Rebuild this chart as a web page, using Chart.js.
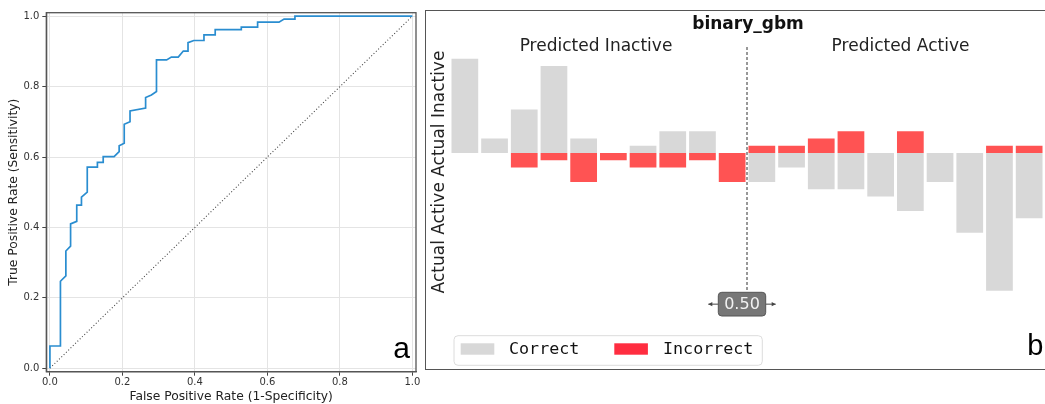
<!DOCTYPE html>
<html>
<head>
<meta charset="utf-8">
<script src="https://cdn.jsdelivr.net/npm/chart.js@4.4.1/dist/chart.umd.min.js"></script>
<style>
  html, body { margin: 0; padding: 0; background: #fff; overflow: hidden; }
  body { width: 1045px; height: 404px; position: relative; }
  #rocChart { position: absolute; left: 0; top: 0; }
  #frameB { position: absolute; left: 425px; top: 10px; width: 700px; height: 360px; box-sizing: border-box; border: 1.5px solid #555; }
  #predChart { position: absolute; left: 425px; top: 0; }
</style>
</head>
<body>
<canvas id="rocChart" width="425" height="404"></canvas>
<div id="frameB"></div>
<canvas id="predChart" width="620" height="404"></canvas>
<script>
// ---------------- DATA: ROC CURVE (panel a) ----------------
const fpr = [0, 0, 0.029, 0.029, 0.044, 0.044, 0.057, 0.057, 0.074, 0.074, 0.087, 0.087, 0.103, 0.103,
    0.131, 0.131, 0.147, 0.147, 0.177, 0.191, 0.191, 0.205, 0.205, 0.221, 0.221, 0.264, 0.264, 0.28,
    0.294, 0.294, 0.322, 0.335, 0.354, 0.368, 0.381, 0.381, 0.397, 0.425, 0.425, 0.456, 0.456, 0.528,
    0.528, 0.573, 0.573, 0.632, 0.646, 0.676, 0.676, 1.0];
const tpr = [0, 0.063, 0.063, 0.247, 0.262, 0.333, 0.347, 0.41, 0.417, 0.463, 0.463, 0.486, 0.5, 0.571,
    0.571, 0.585, 0.585, 0.601, 0.601, 0.615, 0.632, 0.639, 0.693, 0.7, 0.731, 0.739, 0.769, 0.776,
    0.786, 0.876, 0.876, 0.884, 0.884, 0.901, 0.901, 0.925, 0.931, 0.931, 0.947, 0.947, 0.962, 0.962,
    0.969, 0.969, 0.983, 0.983, 0.992, 0.992, 1.0, 1.0];
const chanceX = [0, 1];
const chanceY = [0, 1];
const rocTicks = [0, 0.2, 0.4, 0.6, 0.8, 1.0];

// ---------------- DATA: PREDICTION HISTOGRAM (panel b) ----------------
const binStarts = [0.00, 0.05, 0.10, 0.15, 0.20, 0.25, 0.30, 0.35, 0.40, 0.45,
                   0.50, 0.55, 0.60, 0.65, 0.70, 0.75, 0.80, 0.85, 0.90, 0.95];
const actualInactive = [13, 2, 6, 12, 2, 0, 1, 3, 3, 0, 1, 1, 2, 3, 0, 3, 0, 0, 1, 1];
const actualActive   = [0, 0, 2, 1, 4, 1, 2, 2, 1, 4, 4, 2, 5, 5, 6, 8, 4, 11, 19, 9];
const threshold = 0.5;

// correct = inactive below threshold / active above it; active counts go downwards
const correct = binStarts.map((b, i) => b < threshold ? actualInactive[i] : -actualActive[i]);
const incorrect = binStarts.map((b, i) => b < threshold ? -actualActive[i] : actualInactive[i]);

const GRAY = "#d8d8d8";
const RED = "#ff5353";
const RED_LEGEND = "#ff2d40";

// ---------------- PANEL A ----------------
const frameA = {
    id: "frameA",
    afterDraw(chart) {
        const { ctx, chartArea: a } = chart;
        ctx.save();
        ctx.strokeStyle = "#555";
        ctx.lineWidth = 1.3;
        ctx.strokeRect(a.left, a.top, a.right - a.left, a.bottom - a.top);
        ctx.fillStyle = "#000";
        ctx.font = '30px "Liberation Sans", Arial, sans-serif';
        ctx.textAlign = "right";
        ctx.textBaseline = "alphabetic";
        ctx.fillText("a", 410, 358);
        ctx.restore();
    }
};

const tickFont = { size: 10, family: '"DejaVu Sans", sans-serif' };
const titleFont = { size: 12.3, family: '"DejaVu Sans", sans-serif' };

new Chart(document.getElementById("rocChart"), {
    type: "line",
    data: {
        datasets: [
            {
                data: fpr.map((x, i) => ({ x: x, y: tpr[i] })),
                borderColor: "#2a8dd0",
                borderWidth: 1.7,
                pointRadius: 0,
                tension: 0,
                fill: false
            },
            {
                data: chanceX.map((x, i) => ({ x: x, y: chanceY[i] })),
                borderColor: "#444",
                borderWidth: 1.1,
                borderDash: [1, 2.2],
                pointRadius: 0,
                fill: false
            }
        ]
    },
    options: {
        responsive: false,
        animation: false,
        events: [],
        layout: { padding: { left: 0, top: 12.7, right: 9, bottom: 0 } },
        plugins: { legend: { display: false }, tooltip: { enabled: false } },
        scales: {
            x: {
                type: "linear", min: -0.01, max: 1.01,
                afterBuildTicks: s => { s.ticks = rocTicks.map(v => ({ value: v })); },
                afterFit: s => { s.height = 32.3; },
                grid: { color: "#e4e4e4", tickColor: "#444", tickLength: 4 },
                border: { color: "#555", width: 1.3 },
                ticks: { color: "#333", font: tickFont, padding: 1, maxRotation: 0, callback: v => v.toFixed(1) },
                title: { display: true, text: "False Positive Rate (1-Specificity)", color: "#222", font: titleFont, padding: { top: 0, bottom: 0 } }
            },
            y: {
                type: "linear", min: -0.01, max: 1.01,
                afterBuildTicks: s => { s.ticks = rocTicks.map(v => ({ value: v })); },
                afterFit: s => { s.width = 46.3; },
                grid: { color: "#e4e4e4", tickColor: "#444", tickLength: 4 },
                border: { color: "#555", width: 1.3 },
                ticks: { color: "#333", font: tickFont, padding: 3, callback: v => v.toFixed(1) },
                title: { display: true, text: "True Positive Rate (Sensitivity)", color: "#222", font: titleFont, padding: { top: 6, bottom: 0 } }
            }
        }
    },
    plugins: [frameA]
});

// ---------------- PANEL B ----------------
function roundRect(ctx, x, y, w, h, r) {
    ctx.beginPath();
    ctx.moveTo(x + r, y);
    ctx.arcTo(x + w, y, x + w, y + h, r);
    ctx.arcTo(x + w, y + h, x, y + h, r);
    ctx.arcTo(x, y + h, x, y, r);
    ctx.arcTo(x, y, x + w, y, r);
    ctx.closePath();
}

function arrow(ctx, x0, x1, y) {
    const dir = Math.sign(x1 - x0);
    ctx.beginPath();
    ctx.moveTo(x0, y);
    ctx.lineTo(x1, y);
    ctx.stroke();
    ctx.beginPath();
    ctx.moveTo(x1, y);
    ctx.lineTo(x1 - dir * 4, y - 2.2);
    ctx.lineTo(x1 - dir * 4, y + 2.2);
    ctx.closePath();
    ctx.fill();
}

const decorB = {
    id: "decorB",
    afterDatasetsDraw(chart) {
        const { ctx, scales: { x } } = chart;
        const binW = binStarts[1] - binStarts[0];
        const span = binW * binStarts.length;
        const px = x.left + (threshold - binStarts[0]) / span * (x.right - x.left);

        ctx.save();
        ctx.fillStyle = "#111";
        ctx.textAlign = "center";
        ctx.textBaseline = "middle";

        // ---------------- TITLE ----------------
        ctx.font = 'bold 17px "DejaVu Sans", sans-serif';
        ctx.fillText("binary_gbm", px + 1, 25);

        ctx.font = '17px "DejaVu Sans", sans-serif';
        ctx.fillStyle = "#222";
        ctx.fillText("Predicted Inactive", px - 151, 47);
        ctx.fillText("Predicted Active", px + 153.5, 47);

        // ---------------- Y LABEL ----------------
        ctx.save();
        ctx.translate(18.5, 172);
        ctx.rotate(-Math.PI / 2);
        ctx.textBaseline = "alphabetic";
        ctx.fillText("Actual Active Actual Inactive", 0, 0);
        ctx.restore();

        // ---------------- THRESHOLD ----------------
        ctx.strokeStyle = "#333";
        ctx.lineWidth = 1;
        ctx.setLineDash([3, 2]);
        ctx.beginPath();
        ctx.moveTo(px, 47);
        ctx.lineTo(px, 292);
        ctx.stroke();
        ctx.setLineDash([]);

        const bx0 = px - 28.7, bx1 = px + 18.7, by0 = 292.3, by1 = 316;
        ctx.strokeStyle = "#444";
        ctx.fillStyle = "#444";
        ctx.lineWidth = 1;
        arrow(ctx, bx0, bx0 - 10, (by0 + by1) / 2);
        arrow(ctx, bx1, bx1 + 10, (by0 + by1) / 2);

        roundRect(ctx, bx0, by0, bx1 - bx0, by1 - by0, 3.5);
        ctx.fillStyle = "#777";
        ctx.fill();
        ctx.strokeStyle = "#555";
        ctx.stroke();
        ctx.fillStyle = "#f2f2f2";
        ctx.font = '16px "DejaVu Sans", sans-serif';
        ctx.fillText(threshold.toFixed(2), (bx0 + bx1) / 2, (by0 + by1) / 2 + 0.5);

        // ---------------- LEGEND ----------------
        roundRect(ctx, 29, 335.7, 308.3, 29.6, 4);
        ctx.fillStyle = "#fff";
        ctx.fill();
        ctx.strokeStyle = "#dcdcdc";
        ctx.stroke();

        ctx.fillStyle = GRAY;
        ctx.fillRect(35.7, 343.3, 33.6, 11.4);
        ctx.fillStyle = RED_LEGEND;
        ctx.fillRect(189.3, 343.3, 33.6, 11.4);

        ctx.fillStyle = "#111";
        ctx.textAlign = "left";
        ctx.font = '16.7px "DejaVu Sans Mono", monospace';
        ctx.fillText("Correct", 84, 350);
        ctx.fillText("Incorrect", 238, 350);

        // ---------------- PANEL LETTER ----------------
        ctx.textAlign = "right";
        ctx.textBaseline = "alphabetic";
        ctx.fillStyle = "#000";
        ctx.font = '29px "Liberation Sans", Arial, sans-serif';
        ctx.fillText("b", 618.5, 355);

        ctx.restore();
    }
};

new Chart(document.getElementById("predChart"), {
    type: "bar",
    data: {
        labels: binStarts.map(b => b.toFixed(2)),
        datasets: [
            { label: "Correct", data: correct, backgroundColor: GRAY },
            { label: "Incorrect", data: incorrect, backgroundColor: RED }
        ]
    },
    options: {
        responsive: false,
        animation: false,
        events: [],
        layout: { padding: { left: 25, right: 1, top: 37, bottom: 33.5 } },
        plugins: { legend: { display: false }, tooltip: { enabled: false } },
        datasets: { bar: { barPercentage: 0.9, categoryPercentage: 1, borderWidth: 0 } },
        scales: {
            x: { display: false, stacked: true },
            y: { display: false, stacked: true, min: -30, max: 16 }
        }
    },
    plugins: [decorB]
});
</script>
</body>
</html>
